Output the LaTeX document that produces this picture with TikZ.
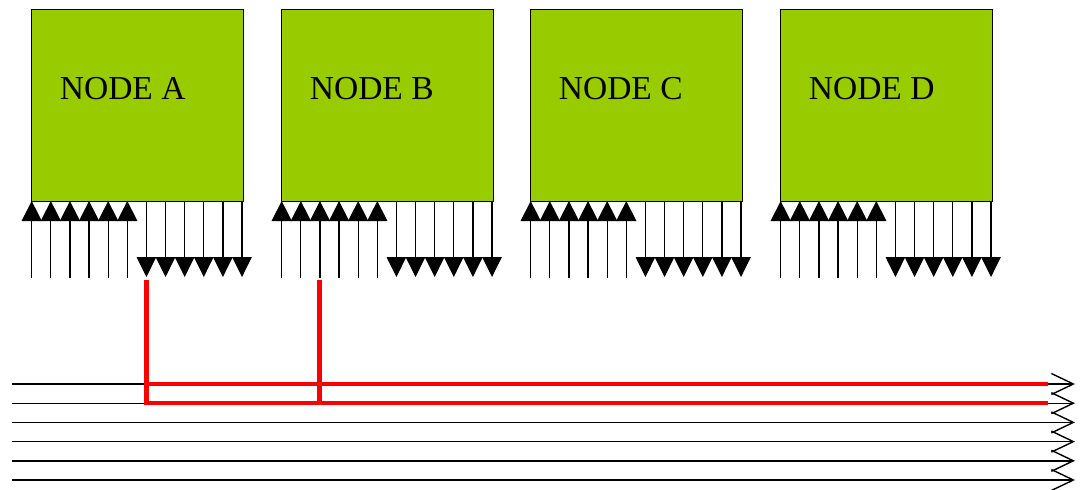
\documentclass[tikz,border=0pt]{standalone}
\usepackage{fontspec}
\setmainfont{Liberation Serif}
\usetikzlibrary{arrows.meta,calc}
\definecolor{boxgreen}{RGB}{153,204,0}
\definecolor{busred}{RGB}{255,0,0}
\begin{document}
\begin{tikzpicture}[x=1pt,y=-1pt,
  nodebox/.style={draw=black,line width=1pt,fill=boxgreen,minimum width=212pt,minimum height=192pt,inner sep=0pt,outer sep=0pt},
  nodelabel/.style={inner sep=0pt,font=\fontsize{33.5}{37}\selectfont},
  inarrow/.style={line width=1.3pt,-{Triangle[width=20pt,length=20pt]}},
  outarrow/.style={line width=1.3pt,-{Triangle[width=19.5pt,length=20pt]}},
  busline/.style={line width=1.4pt,-{Straight Barb[length=22pt,width=21pt]}},
  redline/.style={line width=4.5pt,draw=busred}]
\useasboundingbox (0,0) rectangle (1080,490);
\foreach \n/\x in {A/31,B/281,C/530,D/780} {
  \node[nodebox,anchor=north west] (box\n) at (\x,9) {};
  \node[nodelabel,anchor=base west] (lab\n) at (\x+28.7,99.5) {NODE \n};
  \foreach \i in {0,...,5} {
    \coordinate (\n-in\i) at (\x+0.7+19.12*\i,278);
    \draw[inarrow] (\n-in\i) -- (\n-in\i |- box\n.south);
  }
  \foreach \i in {6,...,11} {
    \coordinate (\n-out\i) at (\x+0.7+19.12*\i,277);
    \draw[outarrow] (\n-out\i |- box\n.south) -- (\n-out\i);
  }
}
\foreach \k in {0,...,5} {
  \coordinate (busL\k) at (12,384+19.2*\k);
  \coordinate (busR\k) at (1075,384+19.2*\k);
  \draw[busline] (busL\k) -- (busR\k);
}
\coordinate (tapA) at (146.5,280);
\coordinate (tapB) at (319.5,280);
\coordinate (redEnd0) at (1048,384);
\coordinate (redEnd1) at (1048,403.2);
\draw[redline] (tapA) |- (redEnd1);
\draw[redline] (tapA |- redEnd0) -- (redEnd0);
\draw[redline] (tapB) -- (tapB |- redEnd1);
\end{tikzpicture}
\end{document}
